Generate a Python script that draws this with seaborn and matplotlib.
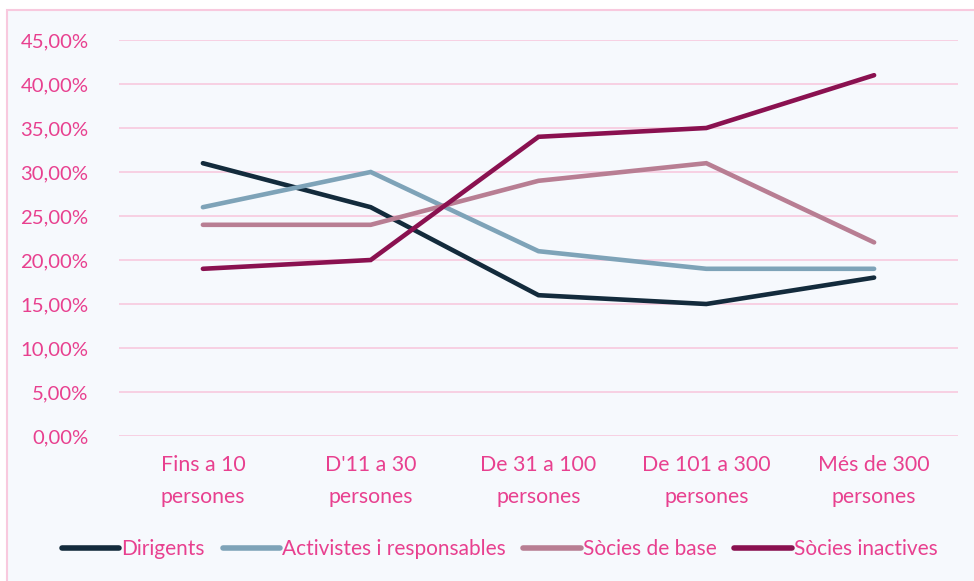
import matplotlib
matplotlib.use("Agg")
import matplotlib.pyplot as plt
from matplotlib.patches import Rectangle
from matplotlib.ticker import FuncFormatter
import seaborn as sns
import pandas as pd

categories = ["Fins a 10\npersones", "D'11 a 30\npersones", "De 31 a 100\npersones",
              "De 101 a 300\npersones", "Més de 300\npersones"]
series = ["Dirigents", "Activistes i responsables", "Sòcies de base", "Sòcies inactives"]
dirigents = [0.31, 0.26, 0.16, 0.15, 0.18]
activistes = [0.26, 0.30, 0.21, 0.19, 0.19]
socies_base = [0.24, 0.24, 0.29, 0.31, 0.22]
socies_inactives = [0.19, 0.20, 0.34, 0.35, 0.41]
colors = ["#132b3c", "#7ea3b8", "#b87e93", "#8a1150"]

pink = "#e8408f"
grid_pink = "#f8c9de"
bg = "#f6f9fd"

rows = []
for name, vals in zip(series, [dirigents, activistes, socies_base, socies_inactives]):
    for i, v in enumerate(vals):
        rows.append({"cat": i, "serie": name, "valor": v})
df = pd.DataFrame(rows)

sns.set_style("white")
plt.rcParams["font.family"] = ["Lato", "DejaVu Sans"]

fig = plt.figure(figsize=(9.74, 5.81), dpi=100)
fig.patch.set_facecolor("white")
fig.patches.append(Rectangle((7 / 974, -0.01), 1.0, 1 - 10 / 581 + 0.01,
                             transform=fig.transFigure, facecolor=bg,
                             edgecolor=grid_pink, linewidth=1.5, zorder=-10))

ax = fig.add_axes([119 / 974, 1 - 436 / 581, (958 - 119) / 974, (436 - 40) / 581])
ax.set_facecolor("none")

sns.lineplot(data=df, x="cat", y="valor", hue="serie", hue_order=series,
             palette=colors, linewidth=3.3, ax=ax, legend=False,
             solid_capstyle="round", solid_joinstyle="miter")

ax.set_xlim(-0.5, 4.5)
ax.set_ylim(0, 0.45)
ax.set_yticks([i * 0.05 for i in range(10)])
ax.yaxis.set_major_formatter(FuncFormatter(lambda v, p: f"{v * 100:.2f}%".replace(".", ",")))
ax.set_xticks(range(5))
ax.set_xticklabels(categories, linespacing=1.75)
ax.tick_params(axis="y", colors=pink, labelsize=14.6, length=0, pad=22)
ax.tick_params(axis="x", colors=pink, labelsize=15.3, length=0, pad=14)
ax.grid(axis="y", color=grid_pink, linewidth=1.2)
ax.set_axisbelow(True)
for s in ax.spines.values():
    s.set_visible(False)
ax.set_xlabel("")
ax.set_ylabel("")

handles = [plt.Line2D([], [], color=c, linewidth=4, solid_capstyle="round") for c in colors]
leg = fig.legend(handles, series, loc="center", bbox_to_anchor=(0.513, 1 - 549 / 581),
                 ncol=4, frameon=False, fontsize=15, handlelength=2.75,
                 handletextpad=0.1, columnspacing=0.85)
for t in leg.get_texts():
    t.set_color(pink)

fig.savefig("out.png", dpi=100, facecolor=fig.get_facecolor())
